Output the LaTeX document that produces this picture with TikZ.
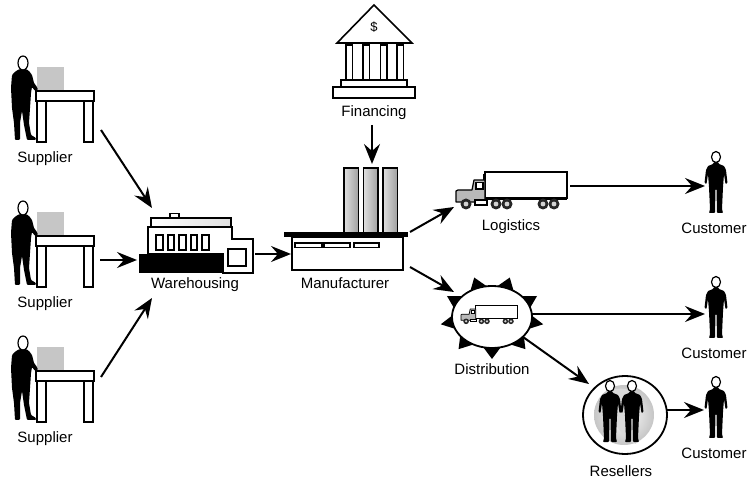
\documentclass[tikz,border=0pt]{standalone}
\usepackage{fontspec}
\setmainfont{Liberation Sans}
\usetikzlibrary{arrows.meta}

% worker standing at a table, facing right (origin = head centre)
\tikzset{
  worker/.pic={
    \fill[black, rounded corners=1pt]
      (-3,6) -- (3,6) -- (6,8) -- (9,12) -- (11,20) -- (14,24) -- (15,27) -- (12,28)
      -- (9,24) -- (8,30) -- (7,45) -- (6,60) -- (8,72) -- (13,75) -- (13,77) -- (4,77)
      -- (1,62) -- (-1,48) -- (-3,60) -- (-3,77) -- (-8,77) -- (-9,60) -- (-11,45)
      -- (-12,25) -- (-11,12) -- (-7,8) -- cycle;
    \draw[fill=white, line width=1.2pt] (0,0) ellipse [x radius=5, y radius=7];
  },
  % standing person seen from the front (origin = head centre)
  person/.pic={
    \fill[black, rounded corners=0.8pt]
      (-2,5) -- (2,5) -- (3,7) -- (8,9) -- (10,13) -- (11.5,26) -- (9.5,27) -- (8,17)
      -- (7,30) -- (6,52) -- (7,56) -- (1,56) -- (0.5,32) -- (-0.5,32) -- (-1,56)
      -- (-7,56) -- (-6,52) -- (-7,30) -- (-8,17) -- (-9.5,27) -- (-11.5,26) -- (-10,13)
      -- (-8,9) -- (-3,7) -- cycle;
    \draw[fill=white, line width=1.2pt] (0,0) ellipse [x radius=4.5, y radius=5.5];
  },
  truckline/.style={line width=1.2pt},
  % tractor-trailer (origin = top left of the cab area)
  truck/.pic={
    \draw[truckline, fill=white] (29,0) rectangle (111,26);
    \fill (29,25) rectangle (111,28);
    \draw[truckline, fill=gray!55, line join=round]
      (0,30) -- (0,19) -- (2,18) -- (16,18) -- (18,8) -- (29,8) -- (29,30) -- cycle;
    \draw[truckline, fill=white] (20,10.5) rectangle (27,17);
    \draw[truckline] (27.5,2) -- (27.5,8);
    \draw[truckline, fill=white] (19,28) rectangle (31,33);
    \foreach \wx in {10,40,51,87,98} {
      \fill[black!85] (\wx,32) circle (5.5);
      \fill[gray!35] (\wx,32) circle (2.4);
    }
  },
  lbl/.style={font=\fontsize{15}{18}\selectfont, inner sep=0pt, anchor=center},
  arr/.style={line width=2pt, -{Stealth[length=20pt, width=16pt, inset=7pt]}},
  edge/.style={line width=1.6pt},
}

\begin{document}
\begin{tikzpicture}[x=1pt, y=-1pt]
\fill[white] (0,0) rectangle (748,481);
\useasboundingbox (0,0) rectangle (748,481);

% ---------- suppliers ----------
\foreach \dy/\nm in {0/supA, 145/supB, 280/supC} {
  \begin{scope}[yshift=-\dy pt]
    \fill[gray!45] (37,67) rectangle (64,91);
    \draw[edge, fill=white] (37,101) rectangle (46,142);
    \draw[edge, fill=white] (84,101) rectangle (93,142);
    \draw[edge, fill=white] (36,91) rectangle (94,101);
    \draw[line width=2.6pt] (35,91) -- (95,91);
    \pic at (23,63) {worker};
    \node[lbl] (\nm) at (45,159) {Supplier};
  \end{scope}
}

% ---------- warehouse ----------
\draw[edge, fill=white] (170,213.5) rectangle (179,218);
\shade[left color=white, right color=gray!25] (151,218) rectangle (231,227);
\draw[edge] (151,218) rectangle (231,227);
\draw[line width=2pt, fill=white, line join=miter]
  (148,254) -- (148,227) -- (232,227) -- (232,239) -- (253,239) -- (253,273)
  -- (223,273) -- (223,254) -- cycle;
\fill (139,254) rectangle (223,273);
\draw[line width=2pt] (228,249) rectangle (246,266);
\foreach \wx in {156,167.5,179,190.5,202}
  \draw[line width=2pt, fill=white] (\wx,235.5) rectangle ({\wx+6.5},250);
\node[lbl] (warehousing) at (195,285) {Warehousing};

% ---------- manufacturer ----------
\foreach \cx in {344,363.5,383} {
  \shade[left color=gray!25, right color=gray!75] (\cx,168) rectangle ({\cx+14.5},233);
  \draw[line width=1.4pt] (\cx,168) rectangle ({\cx+14.5},233);
}
\fill (284,232) rectangle (408,237.5);
\draw[line width=2pt, fill=white] (292,237.5) rectangle (403,270);
\foreach \sx/\sw in {295/27, 324/26, 354/25}
  \draw[line width=1.5pt] (\sx,243) rectangle ({\sx+\sw},247.5);
\node[lbl] (manufacturer) at (345,283) {Manufacturer};

% ---------- financing (bank) ----------
\draw[edge, fill=white, line join=miter] (337,43) -- (374,5) -- (412,43) -- cycle;
\node[font=\fontsize{13}{13}\selectfont, inner sep=0pt] (dollar) at (374,27) {\$};
\foreach \kx in {346,363,380.5,397}
  \draw[line width=1.4pt, fill=white] (\kx,45) rectangle ({\kx+6.5},80);
\draw[edge, fill=white] (341,80) rectangle (407,87);
\draw[edge, fill=white] (333,87) rectangle (415,98);
\node[lbl] (financing) at (374,113) {Financing};

% ---------- logistics ----------
\pic at (456,172) {truck};
\node[lbl] (logistics) at (511,227) {Logistics};

% ---------- distribution ----------
\foreach \a in {30,70,...,350}
  \fill ({492+38*cos(\a-16)},{317-29*sin(\a-16)}) -- ({492+52*cos(\a)},{317-42*sin(\a)})
        -- ({492+38*cos(\a+16)},{317-29*sin(\a+16)}) -- cycle;
\draw[line width=1.8pt, fill=white] (492,317) ellipse [x radius=40, y radius=31];
\begin{scope}[truckline/.style={line width=0.7pt}]
  \pic[scale=0.51] at (461,305) {truck};
\end{scope}
\node[lbl] (distribution) at (492,369) {Distribution};

% ---------- resellers ----------
\draw[line width=1.8pt, fill=white] (625,415) ellipse [x radius=42, y radius=39];
\shade[inner color=white, outer color=gray!45] (624,415) circle (30);
\fill[gray!30] (606,392) .. controls (618,386) and (634,388) .. (640,398)
  .. controls (636,408) and (628,404) .. (624,414)
  .. controls (630,426) and (640,430) .. (636,444)
  .. controls (626,440) and (616,428) .. (612,416)
  .. controls (604,410) and (600,400) .. (606,392) -- cycle;
\pic at (610,386) {person};
\pic at (632,386) {person};
\node[lbl] (resellers) at (621,471) {Resellers};

% ---------- customers ----------
\pic at (716,157) {person};
\node[lbl] (custA) at (714,228) {Customer};
\pic at (716,282) {person};
\node[lbl] (custB) at (714,353) {Customer};
\pic at (716,382) {person};
\node[lbl] (custC) at (714,453) {Customer};

% ---------- connector end points ----------
\coordinate (supA-out) at (101,130);
\coordinate (supB-out) at (100,260);
\coordinate (supC-out) at (101,377);
\coordinate (wh-in1) at (152,208);
\coordinate (wh-in2) at (137,260);
\coordinate (wh-in3) at (152,298);
\coordinate (wh-out) at (255,254);
\coordinate (mf-in) at (291,254);
\coordinate (fin-out) at (372,125);
\coordinate (mf-top) at (372,164);
\coordinate (mf-out1) at (410,232);
\coordinate (mf-out2) at (410,267);
\coordinate (log-in) at (454,207);
\coordinate (dist-in) at (454,292);
\coordinate (log-out) at (570,186);
\coordinate (custA-in) at (705,186);
\coordinate (dist-out1) at (532,314);
\coordinate (custB-in) at (705,314);
\coordinate (dist-out2) at (523,337);
\coordinate (res-in) at (589,384);
\coordinate (res-out) at (667,410);
\coordinate (custC-in) at (704,410);

\draw[arr] (supA-out) -- (wh-in1);
\draw[arr] (supB-out) -- (wh-in2);
\draw[arr] (supC-out) -- (wh-in3);
\draw[arr] (wh-out) -- (mf-in);
\draw[arr] (fin-out) -- (mf-top);
\draw[arr] (mf-out1) -- (log-in);
\draw[arr] (mf-out2) -- (dist-in);
\draw[arr] (log-out) -- (custA-in);
\draw[arr] (dist-out1) -- (custB-in);
\draw[arr] (dist-out2) -- (res-in);
\draw[arr] (res-out) -- (custC-in);
\end{tikzpicture}
\end{document}
